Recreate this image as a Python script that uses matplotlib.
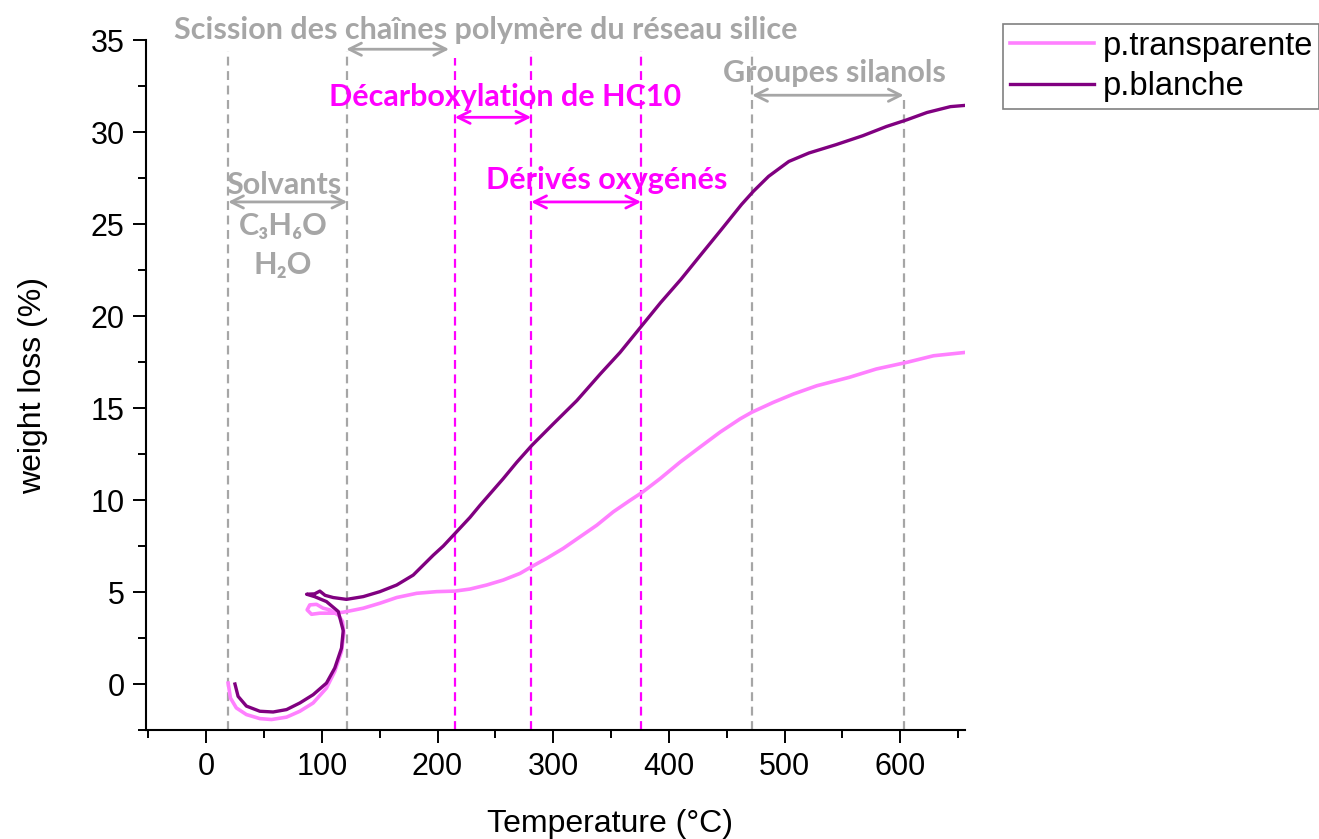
import matplotlib
matplotlib.use("Agg")
import matplotlib.pyplot as plt
from matplotlib.ticker import MultipleLocator

# thermogravimetric curves (temperature in °C, weight loss in %)
temp_transp = [19.0, 21.0, 26.1, 34.8, 46.4, 56.5, 69.5, 81.0, 92.5, 104.0, 111.2, 117.0,
               119.0, 117.9, 114.2, 106.9, 101.1, 95.4, 89.6, 87.3, 91.1, 98.3, 109.8,
               118.4, 135.8, 150.2, 164.7, 182.0, 199.2, 215.1, 228.0, 242.5, 256.8,
               271.3, 281.4, 294.4, 308.7, 323.2, 337.7, 352.0, 366.4, 376.6, 392.4,
               409.7, 427.0, 444.3, 461.6, 471.7, 490.4, 507.7, 527.9, 556.1, 579.3,
               605.6, 628.8, 660.4]
loss_transp = [0.05, -0.76, -1.3, -1.66, -1.88, -1.93, -1.8, -1.48, -1.03, -0.22, 0.69,
               1.77, 2.76, 3.4, 3.75, 4.03, 4.12, 4.33, 4.3, 4.03, 3.79, 3.85, 3.85, 3.9,
               4.12, 4.39, 4.7, 4.93, 5.02, 5.05, 5.16, 5.38, 5.65, 6.01, 6.38, 6.83,
               7.37, 8.0, 8.63, 9.36, 9.98, 10.4, 11.16, 12.06, 12.88, 13.69, 14.41,
               14.77, 15.31, 15.76, 16.21, 16.67, 17.12, 17.48, 17.84, 18.05]

temp_blanche = [24.9, 27.6, 34.8, 46.4, 57.9, 69.5, 81.0, 92.5, 104.0, 111.2, 117.0,
                118.5, 114.2, 104.0, 93.7, 86.8, 93.7, 98.3, 102.8, 109.8, 121.3, 135.8,
                150.2, 164.7, 179.0, 196.3, 205.0, 215.1, 228.0, 236.7, 256.8, 268.5,
                281.4, 300.1, 320.4, 340.7, 357.8, 375.4, 392.9, 410.4, 427.9, 445.4,
                462.8, 473.1, 486.2, 503.7, 521.1, 544.4, 567.7, 588.1, 605.6, 623.1,
                643.4, 660.4]
loss_blanche = [0.0, -0.67, -1.2, -1.48, -1.52, -1.39, -1.03, -0.58, 0.05, 0.87, 1.95,
                2.9, 3.94, 4.48, 4.75, 4.88, 4.9, 5.05, 4.82, 4.7, 4.6, 4.75, 5.02, 5.38,
                5.92, 7.0, 7.5, 8.18, 9.05, 9.71, 11.16, 12.05, 12.96, 14.14, 15.4,
                16.85, 18.02, 19.38, 20.73, 21.99, 23.35, 24.7, 26.06, 26.78, 27.59,
                28.4, 28.86, 29.31, 29.8, 30.3, 30.66, 31.06, 31.38, 31.47]

# boundaries of the decomposition steps
grey_limits = [19, 122, 472, 603]
pink_limits = [215, 281, 376]

GREY = "#a6a6a6"
MAGENTA = "#ff00ff"
ann_font = ["Lato", "DejaVu Sans"]

fig = plt.figure(figsize=(13.19, 8.39), dpi=100)
ax = fig.add_axes([146 / 1319, 0.1299, 819 / 1319, 0.8224])

for xv in grey_limits:
    top = 32.0 if xv == 603 else 34.4
    ax.plot([xv, xv], [-2.5, top], color=GREY, lw=1.6, ls=(0, (4, 2.5)), zorder=1)
for xv in pink_limits:
    top = 34.0 if xv == 215 else 34.4
    ax.plot([xv, xv], [-2.5, top], color=MAGENTA, lw=1.6, ls=(0, (4, 2.5)), zorder=1)

ax.plot(temp_transp, loss_transp, color="#ff80ff", lw=2.6, label="p.transparente",
        solid_joinstyle="round", zorder=3)
ax.plot(temp_blanche, loss_blanche, color="#800080", lw=2.4, label="p.blanche",
        solid_joinstyle="round", zorder=4)

ax.set_xlim(-52, 656)
ax.set_ylim(-2.5, 35)
ax.xaxis.set_major_locator(MultipleLocator(100))
ax.xaxis.set_minor_locator(MultipleLocator(50))
ax.yaxis.set_major_locator(MultipleLocator(5))
ax.yaxis.set_minor_locator(MultipleLocator(2.5))
ax.spines["top"].set_visible(False)
ax.spines["right"].set_visible(False)
for s in ("left", "bottom"):
    ax.spines[s].set_linewidth(1.5)
ax.tick_params(which="major", direction="out", length=9.5, width=1.4, labelsize=22, pad=6)
ax.tick_params(which="minor", direction="out", length=6, width=1.4)
for lab in ax.get_xticklabels() + ax.get_yticklabels():
    lab.set_family("Liberation Sans")

ax.set_xlabel("Temperature (°C)", fontsize=23, family="Liberation Sans")
ax.set_ylabel("weight loss (%)", fontsize=23, family="Liberation Sans")
ax.xaxis.set_label_coords(0.566, -0.115)
ax.yaxis.set_label_coords(-0.12, 0.5)


def label(x, y, s, color):
    ax.text(x, y, s, color=color, fontsize=22, fontweight="bold", family=ann_font,
            ha="center", va="center", clip_on=False, zorder=5)


def span(x0, x1, y, color):
    ax.annotate("", xy=(x0, y), xytext=(x1, y), annotation_clip=False,
                arrowprops=dict(arrowstyle="<->", color=color, lw=2,
                                mutation_scale=22, shrinkA=0, shrinkB=0))


label(241.9, 35.55, "Scission des chaînes polymère du réseau silice", GREY)
span(121, 210, 34.5, GREY)
label(258.6, 31.9, "Décarboxylation de HC10", MAGENTA)
span(215, 281, 30.8, MAGENTA)
label(346.1, 27.4, "Dérivés oxygénés", MAGENTA)
span(281, 376, 26.2, MAGENTA)
label(67.2, 27.1, "Solvants", GREY)
span(19, 122, 26.2, GREY)
label(66.5, 24.9, "C₃H₆O", GREY)
label(66.5, 22.75, "H₂O", GREY)
label(542.9, 33.2, "Groupes silanols", GREY)
span(472, 603, 32.0, GREY)

leg = fig.legend(loc="upper left", bbox_to_anchor=(1003 / 1319, 1 - 24 / 839),
                 borderaxespad=0, prop={"family": "Liberation Sans", "size": 23.5},
                 handlelength=2.6, handletextpad=0.25, labelspacing=0.3,
                 borderpad=0.2, fancybox=False, framealpha=1, edgecolor="#808080")
leg.get_frame().set_linewidth(1.2)

fig.savefig("out.png", dpi=100)
